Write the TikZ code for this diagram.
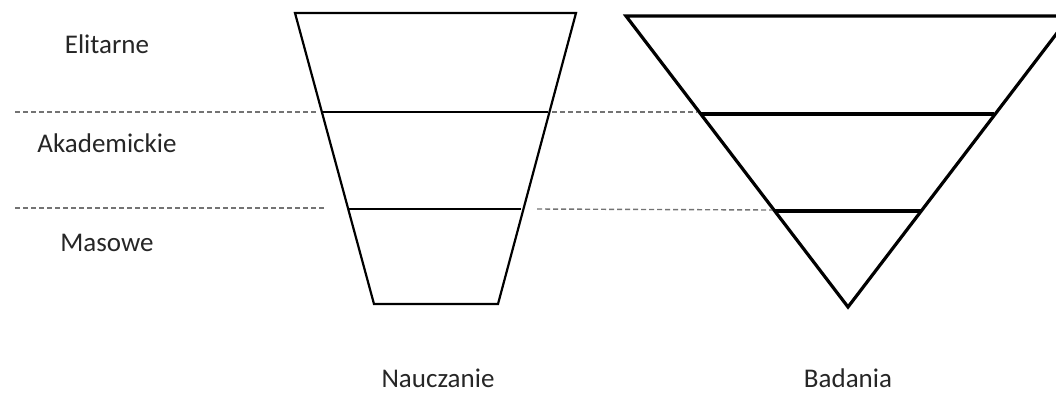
\documentclass[tikz,border=0pt]{standalone}
\usepackage{fontspec}
\setmainfont{Carlito}
\begin{document}
\begin{tikzpicture}[x=0.5pt,y=-0.5pt,
  kontur/.style={line width=1.1pt,line join=miter},
  gruby/.style={line width=1.6pt,line join=miter},
  poziom/.style={draw=black!55,line width=0.7pt,dash pattern=on 2.5pt off 1.5pt},
  etykieta/.style={font=\fontsize{13.5}{16}\selectfont,text=black!85,inner sep=0pt,anchor=base}]
\useasboundingbox (0,0) rectangle (1056,393);
\clip (0,0) rectangle (1056,393);
% etykiety poziomow
\node[etykieta] (elit) at (107,53) {Elitarne};
\node[etykieta] (akad) at (107,152) {Akademickie};
\node[etykieta] (mas) at (107,251) {Masowe};
% nauczanie
\draw[kontur] (295,13) -- (576,13) -- (498,304) -- (374,304) -- cycle;
\draw[kontur] (322,112) -- (548,112);
\draw[kontur] (348,209) -- (521,209);
\node[etykieta] (nauka) at (438,387) {Nauczanie};
% badania
\draw[gruby] (626,16) -- (1070,16) -- (848,307) -- cycle;
\draw[gruby] (701,114) -- (994,114);
\draw[gruby] (775,211) -- (921,211);
\node[etykieta] (bad) at (848,387) {Badania};
% linie przerywane
\coordinate (l1a) at (15,112);
\coordinate (l1b) at (318,112);
\coordinate (l1c) at (552,112);
\coordinate (l1d) at (697,112);
\coordinate (l2a) at (15,208);
\coordinate (l2b) at (327,208);
\coordinate (l2c) at (537,209);
\coordinate (l2d) at (772,210);
\draw[poziom] (l1a) -- (l1b);
\draw[poziom] (l1c) -- (l1d);
\draw[poziom] (l2a) -- (l2b);
\draw[poziom] (l2c) -- (l2d);
\end{tikzpicture}
\end{document}
